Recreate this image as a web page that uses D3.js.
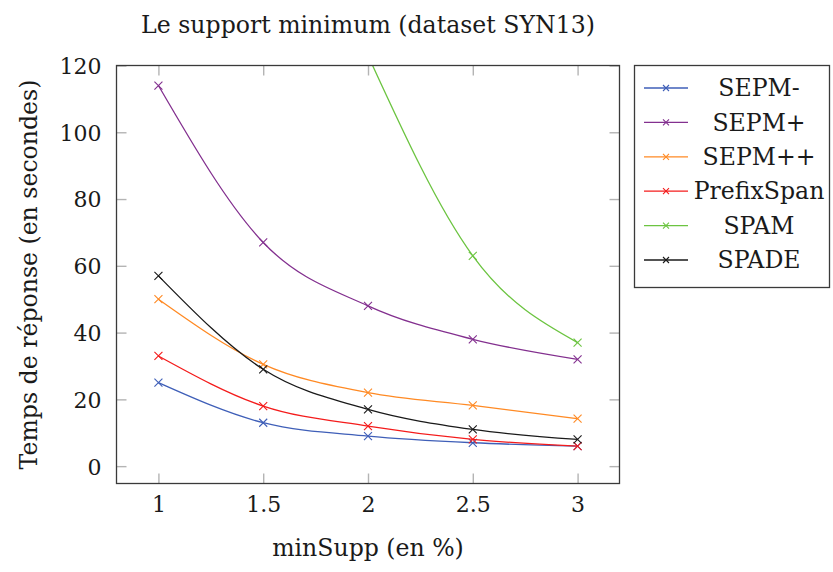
<!DOCTYPE html>
<html>
<head>
<meta charset="utf-8">
<script src="https://cdn.jsdelivr.net/npm/d3@7"></script>
<style>
  html, body { margin: 0; padding: 0; background: #fff; }
  svg { display: block; }
</style>
</head>
<body>
<svg id="chart" width="833" height="572"></svg>
<script>
const xValues = [1, 1.5, 2, 2.5, 3];
const xTicks = [1, 1.5, 2, 2.5, 3];
const xTickLabels = ["1", "1.5", "2", "2.5", "3"];
const yTicks = [0, 20, 40, 60, 80, 100, 120];
const seriesNames = ["SEPM-", "SEPM+", "SEPM++", "PrefixSpan", "SPAM", "SPADE"];
const sepmMinus = [25, 13, 9, 7, 6];
const sepmPlus = [114, 67, 48, 38, 32];
const sepmPlusPlus = [50, 30.5, 22, 18.2, 14.2];
const prefixSpan = [33, 18, 12, 8, 6];
const spamX = [2, 2.5, 3];
const spam = [123, 63, 37];
const spade = [57, 29, 17, 11, 8];
const colors = ["#3f5fb8", "#83308f", "#ff8a24", "#f41c1c", "#6cc441", "#1a1a1a"];

const FONT = "'DejaVu Serif', 'Liberation Serif', serif";

const series = [
  { name: seriesNames[0], xs: xValues, ys: sepmMinus, color: colors[0] },
  { name: seriesNames[1], xs: xValues, ys: sepmPlus, color: colors[1] },
  { name: seriesNames[2], xs: xValues, ys: sepmPlusPlus, color: colors[2] },
  { name: seriesNames[3], xs: xValues, ys: prefixSpan, color: colors[3] },
  { name: seriesNames[4], xs: spamX, ys: spam, color: colors[4] },
  { name: seriesNames[5], xs: xValues, ys: spade, color: colors[5] }
];

const svg = d3.select("#chart");

function measure(str, size) {
  const t = svg.append("text").attr("font-family", FONT).attr("font-size", size).text(str);
  const w = t.node().getComputedTextLength();
  t.remove();
  return w;
}
const labelSize = Math.min(26, 25 * 454 / measure("Le support minimum (dataset SYN13)", 25));
const tickSize = Math.min(26, 25 * 42 / measure("120", 25));

const L = 116.5, R = 619.5, T = 65.5, B = 483.5;
const x = d3.scaleLinear().domain([0.8, 3.2]).range([L, R]);
const y = d3.scaleLinear().domain([-5.2, 120]).range([B, T]);

svg.append("defs").append("clipPath").attr("id", "clip")
  .append("rect").attr("x", L).attr("y", T).attr("width", R - L).attr("height", B - T);

const tickLen = 10;
const tickColor = "#b4b4b4";
const axB = svg.append("g").attr("transform", `translate(0,${B})`)
  .call(d3.axisBottom(x).tickValues(xTicks).tickSize(-tickLen).tickSizeOuter(0).tickPadding(13)
    .tickFormat((d, i) => xTickLabels[i]));
const axT = svg.append("g").attr("transform", `translate(0,${T})`)
  .call(d3.axisTop(x).tickValues(xTicks).tickSize(-tickLen).tickSizeOuter(0).tickFormat(""));
const axL = svg.append("g").attr("transform", `translate(${L},0)`)
  .call(d3.axisLeft(y).tickValues(yTicks).tickSize(-tickLen).tickSizeOuter(0).tickPadding(15));
const axR = svg.append("g").attr("transform", `translate(${R},0)`)
  .call(d3.axisRight(y).tickValues(yTicks).tickSize(-tickLen).tickSizeOuter(0).tickFormat(""));
[axB, axT, axL, axR].forEach(g => {
  g.attr("font-family", FONT);
  g.select(".domain").remove();
  g.selectAll(".tick line").attr("stroke", tickColor).attr("stroke-width", 1.4);
  g.selectAll(".tick text").attr("font-family", FONT).attr("font-size", tickSize).attr("fill", "#1a1a1a");
});
axL.selectAll(".tick text").attr("dy", "0.36em");
axB.selectAll(".tick text").attr("dy", "0.72em");

const line = d3.line().curve(d3.curveMonotoneX).x(d => x(d[0])).y(d => y(d[1]));
const plot = svg.append("g").attr("clip-path", "url(#clip)");
series.forEach(s => {
  const pts = s.xs.map((v, i) => [v, s.ys[i]]);
  plot.append("path").attr("d", line(pts)).attr("fill", "none")
    .attr("stroke", s.color).attr("stroke-width", 1.3);
  const m = 4;
  pts.forEach(p => {
    const px = x(p[0]), py = y(p[1]);
    plot.append("path")
      .attr("d", `M${px - m},${py - m}L${px + m},${py + m}M${px - m},${py + m}L${px + m},${py - m}`)
      .attr("stroke", s.color).attr("stroke-width", 1.1).attr("fill", "none");
  });
});

svg.append("rect").attr("x", L).attr("y", T).attr("width", R - L).attr("height", B - T)
  .attr("fill", "none").attr("stroke", "#3a3a3a").attr("stroke-width", 1.3);

function label(sel) {
  return sel.attr("font-family", FONT).attr("fill", "#1a1a1a").attr("font-size", labelSize);
}
label(svg.append("text")).attr("x", (L + R) / 2).attr("y", 33).attr("text-anchor", "middle")
  .text("Le support minimum (dataset SYN13)");
label(svg.append("text")).attr("x", (L + R) / 2).attr("y", 556).attr("text-anchor", "middle")
  .text("minSupp (en %)");
label(svg.append("text")).attr("transform", `translate(37,${(T + B) / 2}) rotate(-90)`)
  .attr("text-anchor", "middle").text("Temps de réponse (en secondes)");

const lg = svg.append("g");
lg.append("rect").attr("x", 634.5).attr("y", 65.5).attr("width", 195).attr("height", 222)
  .attr("fill", "#fff").attr("stroke", "#3a3a3a").attr("stroke-width", 1.3);
series.forEach((s, i) => {
  const cy = 88 + i * 34.4;
  lg.append("line").attr("x1", 644).attr("x2", 688).attr("y1", cy).attr("y2", cy)
    .attr("stroke", s.color).attr("stroke-width", 1.3);
  const m = 3, cx = 666;
  lg.append("path").attr("d", `M${cx - m},${cy - m}L${cx + m},${cy + m}M${cx - m},${cy + m}L${cx + m},${cy - m}`)
    .attr("stroke", s.color).attr("stroke-width", 1.1);
  label(lg.append("text")).attr("x", 759).attr("y", cy).attr("dy", "0.35em").attr("text-anchor", "middle")
    .text(s.name);
});
</script>
</body>
</html>
